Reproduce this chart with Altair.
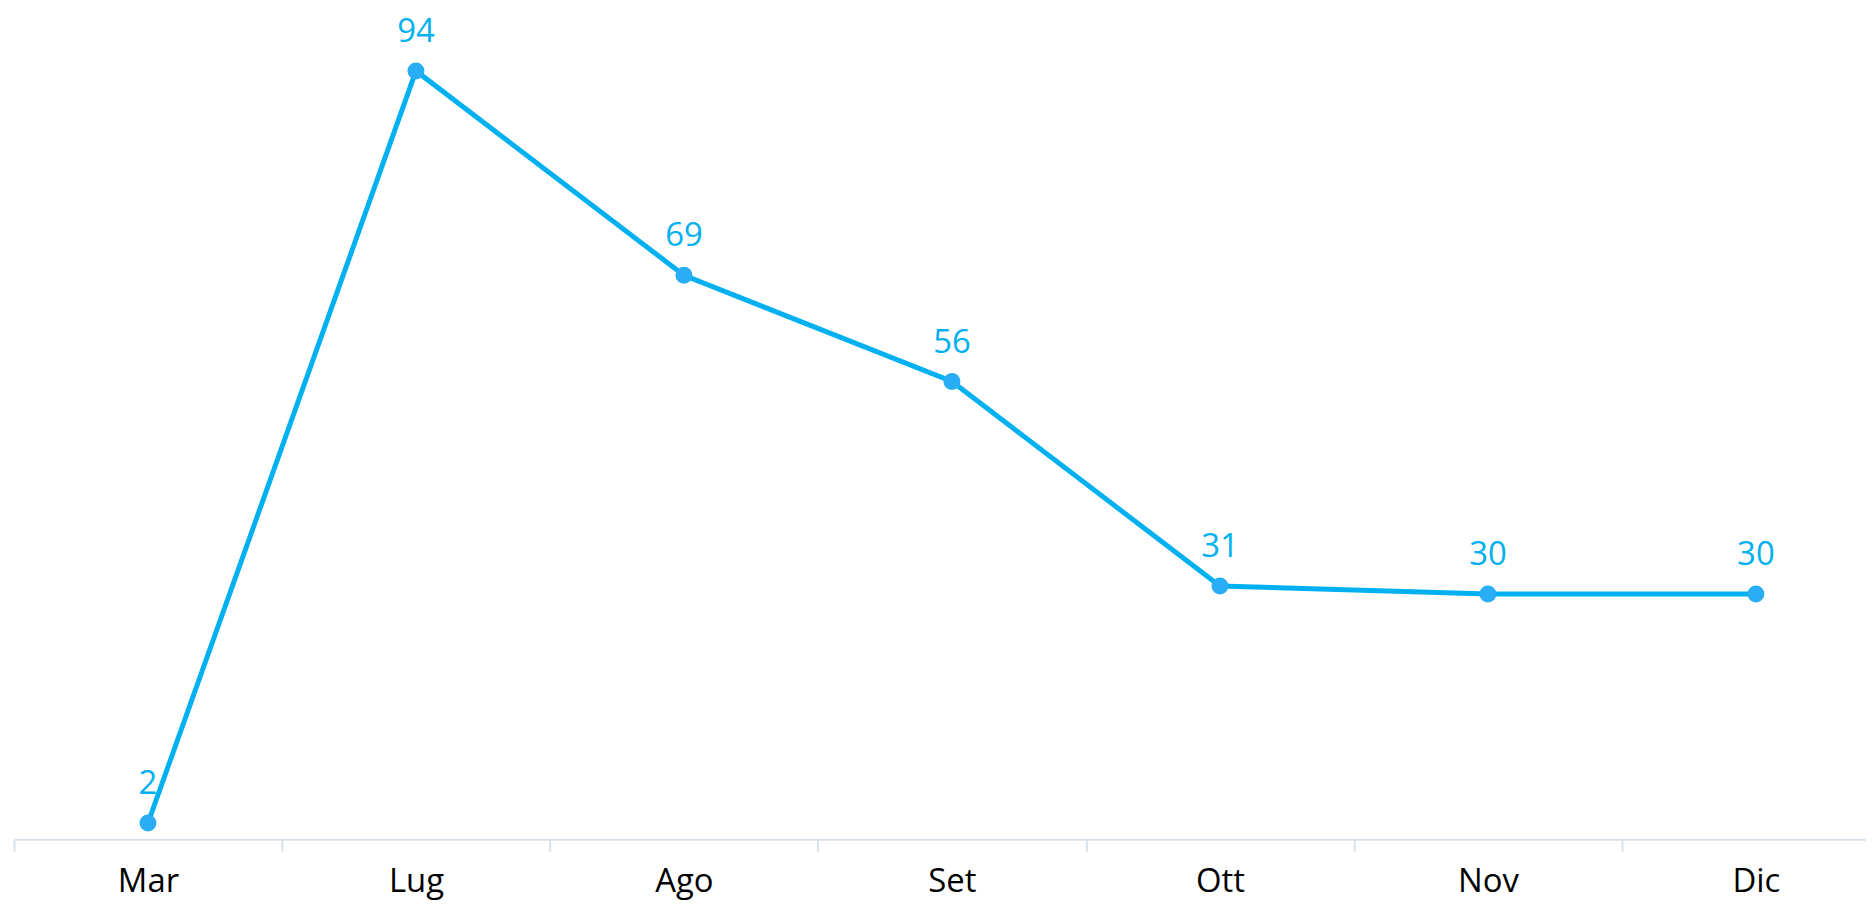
import altair as alt
import pandas as pd

months = ["Mar", "Lug", "Ago", "Set", "Ott", "Nov", "Dic"]
values = [2, 94, 69, 56, 31, 30, 30]

df = pd.DataFrame({"mese": months, "valore": values})

x = alt.X("mese:N", sort=months,
          scale=alt.Scale(range=[0, 1884], paddingInner=0, paddingOuter=0, round=False),
          axis=alt.Axis(title=None, labelAngle=0, tickBand="extent", domainColor="#d9e1ea",
                        tickColor="#d9e1ea", tickSize=12, tickWidth=2, domainWidth=2,
                        labelFontSize=33, labelFont="Open Sans", labelColor="#000000",
                        labelPadding=14, grid=False))
y = alt.Y("valore:Q", scale=alt.Scale(domain=[0, 100], nice=False, zero=True), axis=None)

base = alt.Chart(df).encode(x=x, y=y)

line = base.mark_line(color="#00b0f0", strokeWidth=5)
points = base.mark_point(filled=True, color="#29adf5", size=290, opacity=1)
labels = base.mark_text(dy=-29, baseline="alphabetic", align="center", fontSize=33,
                        font="Open Sans", color="#00b0f0").encode(text="valore:Q")

chart = (line + points + labels).properties(
    width=1860, height=821,
    autosize=alt.AutoSizeParams(type="none"),
    padding={"left": 6, "top": 12, "right": 0, "bottom": 62},
).configure_view(stroke=None)

chart.save("out.html", embed_options={"renderer": "svg", "actions": False})
